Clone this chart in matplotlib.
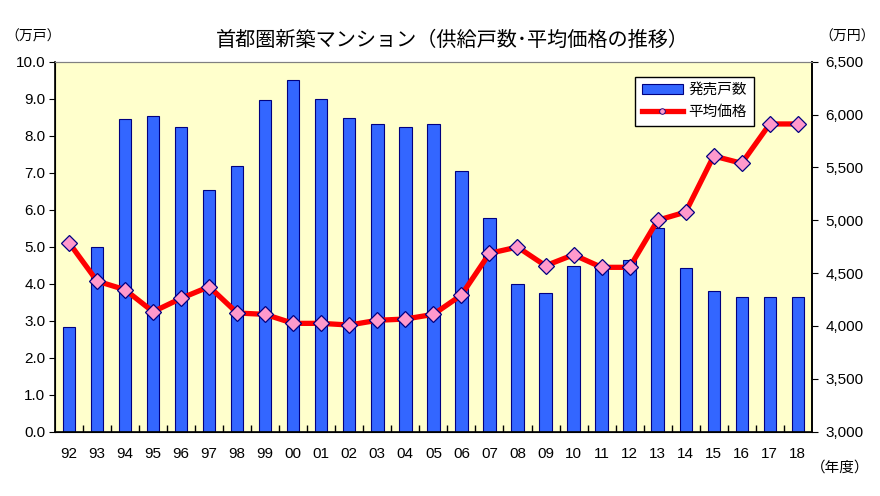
import matplotlib
matplotlib.use("Agg")
import matplotlib.pyplot as plt
from matplotlib.lines import Line2D
from matplotlib.patches import Patch

plt.rcParams['font.family'] = ['Liberation Sans', 'Noto Sans CJK JP', 'DejaVu Sans']

# ---------------------------
# Data
# ---------------------------
years = ["92", "93", "94", "95", "96", "97", "98", "99", "00", "01", "02", "03", "04", "05",
         "06", "07", "08", "09", "10", "11", "12", "13", "14", "15", "16", "17", "18"]
units = [2.83, 4.99, 8.44, 8.52, 8.24, 6.53, 7.18, 8.96, 9.51, 8.99, 8.47, 8.32, 8.24, 8.32,
         7.05, 5.77, 3.99, 3.76, 4.49, 4.46, 4.64, 5.50, 4.43, 3.81, 3.63, 3.63, 3.63]
prices = [4788, 4425, 4343, 4135, 4262, 4372, 4123, 4110, 4025, 4025, 4009, 4054, 4066, 4110,
          4293, 4687, 4747, 4570, 4674, 4555, 4555, 5000, 5078, 5608, 5539, 5911, 5911]

BAR_BLUE = "#3366FF"
NAVY = "#000080"
RED = "#FF0000"
PINK = "#FF99CC"

fig = plt.figure(figsize=(8.8, 4.96), dpi=100)
ax = fig.add_axes([0.0625, 0.1296, 0.86, 0.746])
ax.set_facecolor("#FFFFCC")

x = list(range(len(years)))
ax.bar(x, units, width=0.44, color=BAR_BLUE, edgecolor=NAVY, linewidth=0.8, zorder=2)
ax.set_xlim(-0.5, len(years) - 0.5)
ax.set_ylim(0, 10)
ax.set_yticks([i for i in range(11)])
ax.set_yticklabels([f"{i:.1f}" for i in range(11)])
ax.set_xticks(x)
ax.set_xticklabels(years)
ax.set_xticks([i + 0.5 for i in range(len(years) - 1)], minor=True)
ax.tick_params(axis="x", which="major", length=0, labelsize=11, pad=11)
ax.tick_params(axis="x", which="minor", direction="in", length=5, width=1)
ax.tick_params(axis="y", direction="out", length=4, labelsize=11, pad=3)

for side in ["left", "bottom", "right"]:
    ax.spines[side].set_color("black")
    ax.spines[side].set_linewidth(1.2)
ax.spines["top"].set_color("#808080")

ax2 = ax.twinx()
ax2.plot(x, prices, color=RED, linewidth=3.8, marker="D", markersize=8.5,
         markerfacecolor=PINK, markeredgecolor=NAVY, markeredgewidth=0.9, zorder=3)
ax2.set_ylim(3000, 6500)
ax2.set_yticks(range(3000, 7000, 500))
ax2.set_yticklabels([f"{v:,}" for v in range(3000, 7000, 500)])
ax2.tick_params(axis="y", direction="out", length=4, labelsize=11, pad=6)
ax2.spines["right"].set_linewidth(1.2)
ax2.spines["top"].set_color("#808080")

# legend
handles = [
    Patch(facecolor=BAR_BLUE, edgecolor=NAVY, linewidth=0.8),
    Line2D([0], [0], color=RED, linewidth=3.8, marker="o", markersize=4,
           markerfacecolor=PINK, markeredgecolor=NAVY, markeredgewidth=0.6),
]
leg = ax2.legend(handles, ["発売戸数", "平均価格"], loc="upper left",
                 bbox_to_anchor=(0.767, 0.96), borderaxespad=0, fontsize=10.5,
                 frameon=True, fancybox=False, edgecolor="black", framealpha=1,
                 handlelength=2.8, handleheight=0.7, handletextpad=0.4,
                 borderpad=0.45, labelspacing=0.55)
leg.get_frame().set_linewidth(1.0)

# titles and unit labels
fig.text(0.514, 0.918, "首都圏新築マンション（供給戸数･平均価格の推移）",
         ha="center", va="center", fontsize=14.5)
fig.text(0.038, 0.926, "（万戸）", ha="center", va="center", fontsize=10)
fig.text(0.963, 0.926, "（万円）", ha="center", va="center", fontsize=10)
fig.text(0.955, 0.058, "（年度）", ha="center", va="center", fontsize=10.5)

fig.savefig("out.png", dpi=100)
